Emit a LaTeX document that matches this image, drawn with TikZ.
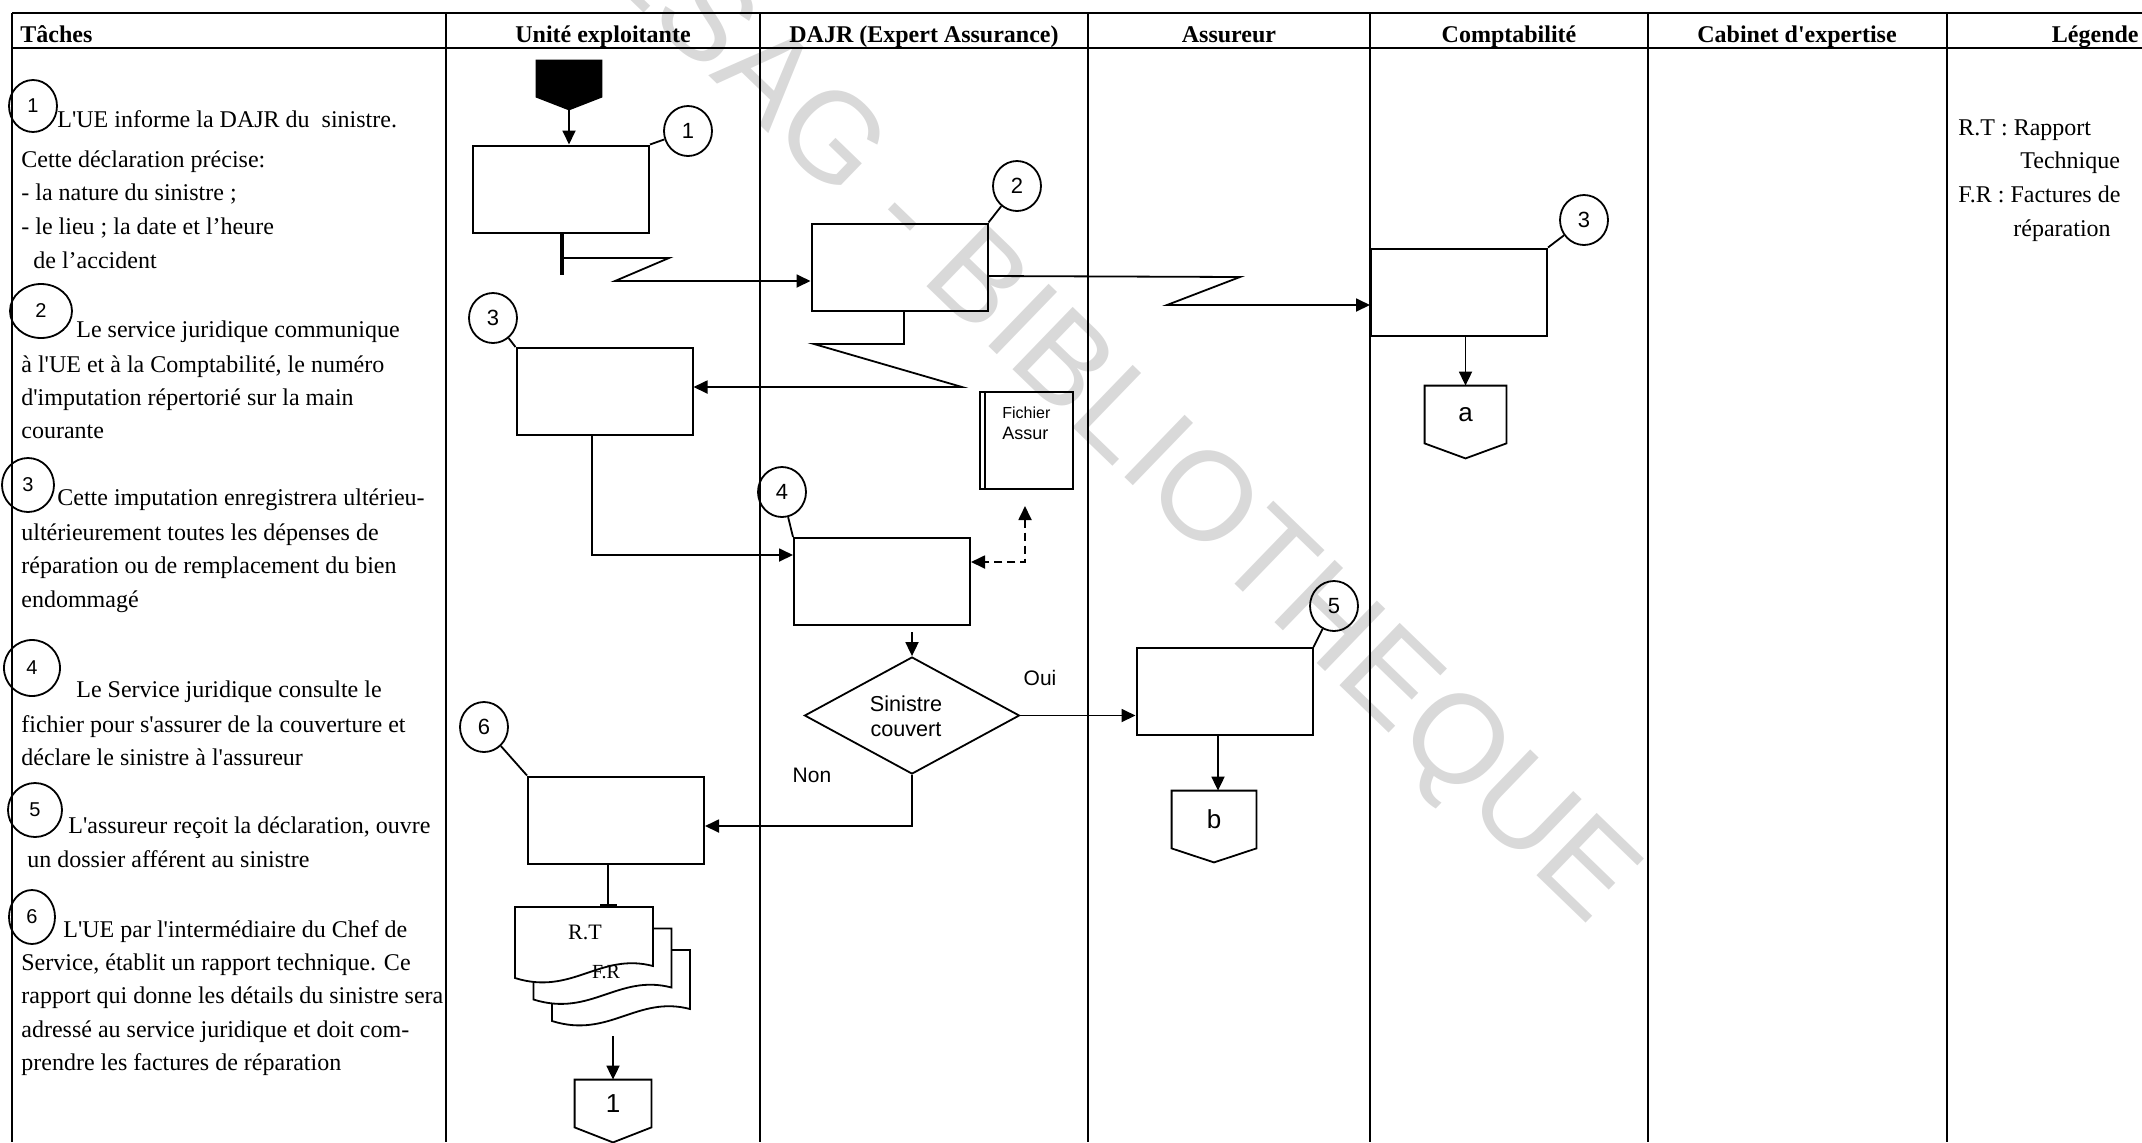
\documentclass[tikz,border=0pt]{standalone}
\usepackage{fontspec}
\setmainfont{Liberation Serif}
\newfontfamily\arialf{Liberation Sans}
\usetikzlibrary{arrows.meta,shapes.geometric,calc}
\newcommand{\q}{\textquotesingle}
\begin{document}
\begin{tikzpicture}[x=0.5pt,y=-0.5pt,
  lane/.style={line width=0.8pt},
  flow/.style={line width=0.9pt},
  arr/.style={flow,-{Triangle[length=7pt,width=6.5pt]}},
  box/.style={draw,line width=1pt,minimum width=88pt,minimum height=43.5pt,inner sep=0pt},
  num/.style={draw,ellipse,line width=0.9pt,minimum width=24pt,minimum height=25pt,inner sep=0pt,font=\arialf\fontsize{11}{13}\selectfont},
  tnum/.style={num,font=\arialf\fontsize{10}{12}\selectfont},
  txt/.style={anchor=base west,inner sep=0pt,font=\fontsize{12}{14}\selectfont},
  hdr/.style={anchor=base,inner sep=0pt,font=\bfseries\fontsize{12}{14}\selectfont},
  lbl/.style={inner sep=0pt,font=\arialf\fontsize{10.5}{12.5}\selectfont},
  offpage/.style={inner sep=0pt,font=\arialf\fontsize{13}{15}\selectfont}
]
\useasboundingbox (0,0) rectangle (2142,1142);
\clip (0,0) rectangle (2142,1142);

% watermark
\node[text=black!15,rotate=-44,font=\arialf\fontsize{63}{67}\selectfont,inner sep=0pt] (wm) at (1078,388) {CESAG - BIBLIOTHEQUE};

% table frame
\draw[lane] (12,13) -- (2142,13);
\draw[lane] (12,48) -- (2142,48);
\foreach \x in {12,446,760,1088,1370,1648,1947} \draw[lane] (\x,13) -- (\x,1142);

% headers
\node[hdr,anchor=base west] (hT) at (20,42) {Tâches};
\node[hdr] (hU) at (603,42) {Unité exploitante};
\node[hdr] (hD) at (924,42) {DAJR (Expert Assurance)};
\node[hdr] (hA) at (1229,42) {Assureur};
\node[hdr] (hC) at (1509,42) {Comptabilité};
\node[hdr] (hB) at (1797,42) {Cabinet d\q expertise};
\node[hdr,anchor=base east] (hL) at (2139,42) {Légende};

% task column
\node[tnum,minimum width=24pt,minimum height=26pt] (t1) at (33,106) {1};
\node[txt] (l1a) at (57,127) {L\q UE informe la DAJR du\ \ sinistre.};
\node[txt] (l1b) at (21,167) {Cette déclaration précise:};
\node[txt] (l1c) at (21,200) {- la nature du sinistre ;};
\node[txt] (l1d) at (21,234) {- le lieu ; la date et l’heure};
\node[txt] (l1e) at (33,268) {de l’accident};

\node[tnum,minimum width=31pt,minimum height=27pt] (t2) at (41,311) {2};
\node[txt] (l2a) at (76,337) {Le service juridique communique};
\node[txt] (l2b) at (21,372) {à l\q UE et à la Comptabilité, le numéro};
\node[txt] (l2c) at (21,405) {d\q imputation répertorié sur la main};
\node[txt] (l2d) at (21,438) {courante};

\node[tnum,minimum width=26pt,minimum height=27pt] (t3) at (28,485) {3};
\node[txt] (l3a) at (57,505) {Cette imputation enregistrera ultérieu-};
\node[txt] (l3b) at (21,540) {ultérieurement toutes les dépenses de};
\node[txt] (l3c) at (21,573) {réparation ou de remplacement du bien};
\node[txt] (l3d) at (21,607) {endommagé};

\node[tnum,minimum width=28pt,minimum height=28pt] (t4) at (32,668) {4};
\node[txt] (l4a) at (76,697) {Le Service juridique consulte le};
\node[txt] (l4b) at (21,732) {fichier pour s\q assurer de la couverture et};
\node[txt] (l4c) at (21,765) {déclare le sinistre à l\q assureur};

\node[tnum,minimum width=27pt,minimum height=27pt] (t5) at (35,810) {5};
\node[txt] (l5a) at (68,833) {L\q assureur reçoit la déclaration, ouvre};
\node[txt] (l5b) at (27,867) {un dossier afférent au sinistre};

\node[tnum,minimum width=23pt,minimum height=27pt] (t6) at (32,917) {6};
\node[txt] (l6a) at (63,937) {L\q UE par l\q intermédiaire du Chef de};
\node[txt] (l6b) at (21,970) {Service, établit un rapport technique. Ce};
\node[txt] (l6c) at (21,1003) {rapport qui donne les détails du sinistre sera};
\node[txt] (l6d) at (21,1037) {adressé au service juridique et doit com-};
\node[txt] (l6e) at (21,1070) {prendre les factures de réparation};

% legend
\node[txt] (lg1) at (1958,135) {R.T : Rapport};
\node[txt] (lg2) at (2020,168) {Technique};
\node[txt] (lg3) at (1958,202) {F.R : Factures de};
\node[txt] (lg4) at (2013,236) {réparation};

% process boxes
\node[box] (b1) at (561,189) {};
\node[box] (b2) at (899.5,267) {};
\node[box] (bc) at (1459,292) {};
\node[box] (bu3) at (604.5,391.5) {};
\node[box] (b4) at (882,581.5) {};
\node[box] (b5) at (1224.5,691.5) {};
\node[box] (b6) at (616,820) {};

% numbered circles
\node[num] (c1) at (688,131) {1};
\node[num] (c2) at (1017,186) {2};
\node[num] (cu3) at (493,318) {3};
\node[num] (cc3) at (1584,220) {3};
\node[num] (c4) at (782,492) {4};
\node[num] (c5) at (1334,606) {5};
\node[num] (c6) at (484,727) {6};
\draw[flow] (c1) -- (b1.north east);
\draw[flow] (c2) -- (b2.north east);
\draw[flow] (cu3) -- (bu3.north west);
\draw[flow] (cc3) -- (bc.north east);
\draw[flow] (c4) -- (b4.north west);
\draw[flow] (c5) -- (b5.north east);
\draw[flow] (c6) -- (b6.north west);

% start off-page connector (black)
\node[inner sep=0pt,minimum width=33pt,minimum height=18.5pt] (st) at (569,78.5) {};
\coordinate (stp) at ($(st.south)+(0,13)$);
\fill (st.north west) -- (st.north east) -- (st.south east) -- (stp) -- (st.south west) -- cycle;
\draw[arr] (stp) -- (stp |- b1.north);

% off-page connectors a, b, 1
\node[offpage,minimum width=40.5pt,minimum height=28.5pt] (pa) at (1465.5,414.5) {a};
\draw[flow] (pa.north west) -- (pa.north east) -- (pa.south east) -- ($(pa.south)+(0,15)$) -- (pa.south west) -- cycle;
\node[offpage,minimum width=42pt,minimum height=28.5pt] (pb) at (1214,819.5) {b};
\draw[flow] (pb.north west) -- (pb.north east) -- (pb.south east) -- ($(pb.south)+(0,14)$) -- (pb.south west) -- cycle;
\node[offpage,minimum width=38pt,minimum height=23.5pt] (p1) at (613,1103.5) {1};
\draw[flow] (p1.north west) -- (p1.north east) -- (p1.south east) -- ($(p1.south)+(0,15)$) -- (p1.south west) -- cycle;

% file
\node[draw,flow,minimum width=46.5pt,minimum height=48.5pt,inner sep=0pt] (fi) at (1026.5,440.5) {};
\draw[flow] ($(fi.north west)+(6,0)$) -- ($(fi.south west)+(6,0)$);
\node[anchor=base west,inner sep=0pt,font=\arialf\fontsize{8}{9}\selectfont] (fit1) at (1002,418) {Fichier};
\node[anchor=base west,inner sep=0pt,font=\arialf\fontsize{9}{10}\selectfont] (fit2) at (1002,439) {Assur};

% decision
\node[diamond,draw,flow,minimum width=107.5pt,minimum height=58.5pt,inner sep=0pt] (dia) at (912,715.5) {};
\node[inner sep=0pt,align=center,font=\arialf\fontsize{10.8}{12.5}\selectfont] (diat) at (906,716) {Sinistre\\couvert};
\node[lbl] (oui) at (1040,678) {Oui};
\node[lbl] (non) at (812,775) {Non};

% document stack
\foreach \s in {2,1,0}
  \draw[flow,fill=white,shift={({\s*18.5},{\s*21.5})}] (515,907) -- (653,907) -- (653,966) .. controls (600,952) and (572,996) .. (515,978) -- cycle;
\node[inner sep=0pt,font=\fontsize{11}{13}\selectfont] (rt) at (585,932) {R.T};
\node[inner sep=0pt,font=\fontsize{10}{12}\selectfont] (fr) at (606,972) {F.R};
\coordinate (doct) at (608,906);
\coordinate (docb) at (613,1036);

% connectors
\draw[line width=2.2pt] (b1.south -| 562,0) -- (562,275);
\coordinate (z1) at (562,258);
\draw[arr] (z1) -- (669,258) -- (615,281) -- (b2.west |- 0,281);
\draw[arr] (b2.east |- 0,276) -- (1240,277) -- (1167,305) -- (bc.west |- 0,305);
\draw[arr] (b2.south -| 904,0) -- (904,344) -- (814,344) -- (962,387) -- (bu3.east |- 0,387);
\draw[arr] (bu3.south -| 592,0) -- (592,555) -- (b4.west |- 0,555);
\coordinate (fa) at (1025,506);
\draw[flow,{Triangle[length=7pt,width=6.5pt]}-{Triangle[length=7pt,width=6.5pt]},dash pattern=on 4pt off 2.5pt] (fa) -- (1025,562) -- (b4.east |- 0,562);
\coordinate (d4) at ($(dia.north |- b4.south)+(0,6)$);
\draw[arr] (d4) -- (dia.north);
\draw[arr] (dia.east) -- (b5.west |- dia.east);
\draw[arr] (dia.south) -- (912,826) -- (b6.east |- 0,826);
\draw[arr] (b5.south -| 1218,0) -- (1218,0 |- pb.north);
\draw[arr] (bc.south -| pa.north) -- (pa.north);
\draw[flow] (b6.south -| doct) -- (doct);
\draw[line width=2pt] ($(doct)+(-8,0)$) -- ($(doct)+(9,0)$);
\draw[arr] (docb) -- (docb |- p1.north);
\end{tikzpicture}
\end{document}
